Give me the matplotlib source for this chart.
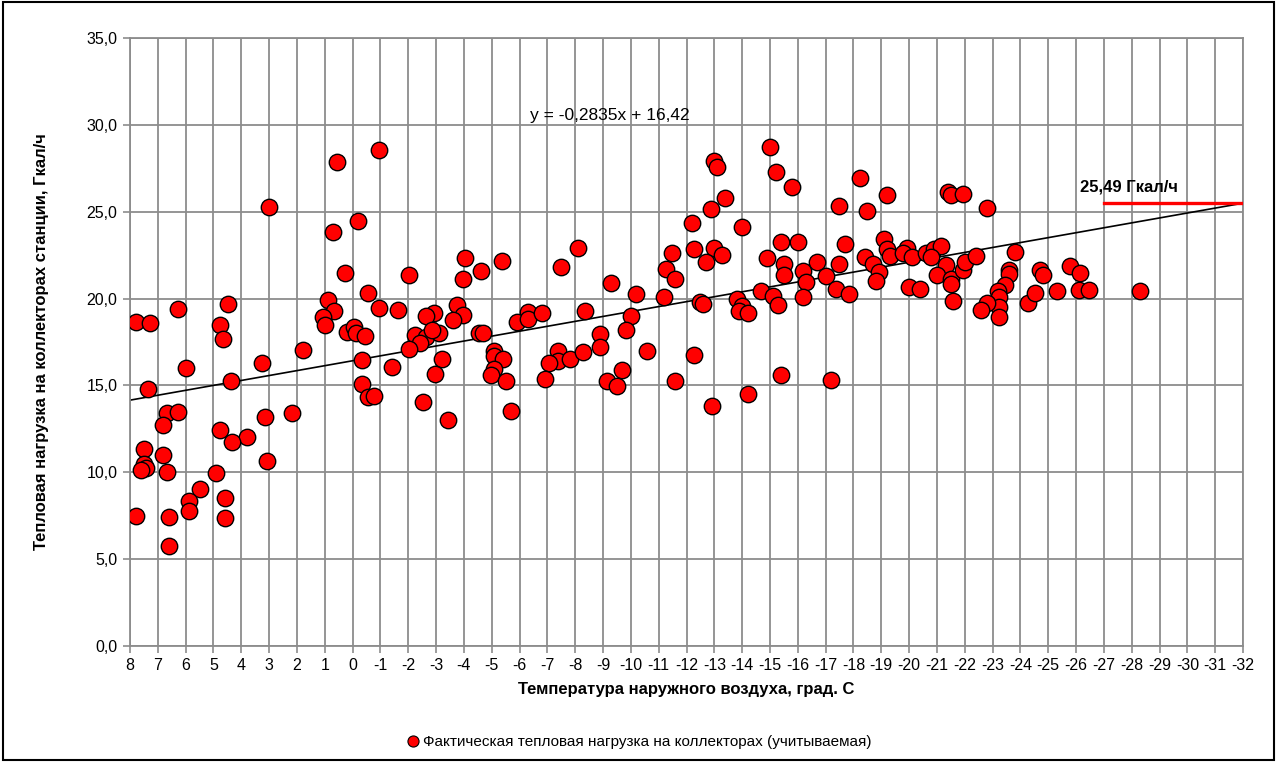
import matplotlib
matplotlib.use('Agg')
import matplotlib.pyplot as plt
from matplotlib.ticker import FuncFormatter, MultipleLocator
from matplotlib.patches import Rectangle
from matplotlib.lines import Line2D

plt.rcParams['font.family'] = ['Liberation Sans', 'DejaVu Sans']
plt.rcParams['axes.unicode_minus'] = False

# температура наружного воздуха, град. С
temp = [3.0, 7.8, 7.28, 6.28, 4.48, 4.78, 4.66, 1.78, 5.99, 3.25,
        7.37, 4.36, 6.67, 6.28, 6.8, 3.14, 2.16, 4.78, 3.78, 4.35,
        7.48, 6.8, 3.08, 7.49, 7.43, 7.61, 6.67, 4.9, 5.47, 5.89,
        4.59, 5.89, 7.8, 6.59, 4.59, 6.59,
        -0.94, 0.57, -0.21, 0.69, 0.26, -2.01, -4.05, -3.95, -4.63, -0.54,
        0.87, -0.94, -1.63, 0.66, 1.05, 0.99, -3.74, -3.96, -3.62, -2.94,
        -2.63, -2.24, -2.64, -3.12, -2.84, -2.42, -2.03, 0.2, -0.06, -0.14,
        -0.45, -4.55, -4.7, -0.33, -1.42, -3.23, -2.95, -0.33, -0.54, -0.76,
        -2.53, -3.43,
        -5.38, -8.11, -7.49, -9.28, -10.17, -6.29, -5.9, -6.29, -6.81, -8.37,
        -10.0, -9.81, -8.9, -8.9, -10.59, -5.07, -5.07, -5.41, -5.07, -4.98,
        -5.5, -7.38, -7.38, -7.07, -7.8, -8.29, -6.91, -5.69, -9.16, -9.49,
        -9.69, -11.2,
        -15.0, -13.0, -13.1, -15.2, -15.8, -13.38, -12.89, -12.19, -14.0, -17.49,
        -15.39, -16.0, -17.69, -11.48, -12.26, -13.0, -13.27, -12.7, -11.28, -11.59,
        -14.9, -15.49, -15.49, -16.7, -17.49, -16.2, -16.29, -17.01, -17.38, -17.83,
        -16.2, -14.69, -15.11, -15.29, -12.47, -12.6, -13.8, -13.98, -13.9, -14.22,
        -12.28, -11.58, -15.39, -17.2, -14.2, -12.9,
        -18.23, -19.22, -21.41, -21.5, -21.92, -22.8, -18.49, -19.09, -19.21, -19.33,
        -18.4, -18.69, -18.92, -18.8, -19.92, -19.78, -20.12, -20.59, -20.89, -21.13,
        -20.8, -21.32, -21.0, -21.5, -21.5, -21.92, -22.01, -22.42, -23.8, -21.59,
        -20.0, -20.4, -23.59, -23.59, -23.43, -23.2, -23.23, -23.23, -23.23, -22.8,
        -22.59, -24.26,
        -24.69, -24.81, -24.51, -25.31, -25.79, -26.13, -26.1, -26.46, -28.31]

# тепловая нагрузка, Гкал/ч
load = [25.3, 18.65, 18.6, 19.4, 19.7, 18.5, 17.7, 17.06, 16.0, 16.3,
        14.8, 15.23, 13.42, 13.46, 12.73, 13.2, 13.4, 12.46, 12.04, 11.75,
        11.35, 10.98, 10.63, 10.5, 10.25, 10.12, 10.02, 9.94, 9.04, 8.37,
        8.5, 7.79, 7.48, 7.42, 7.38, 5.73,
        28.56, 27.85, 24.46, 23.85, 21.48, 21.38, 22.35, 21.1, 21.6, 20.33,
        19.94, 19.48, 19.35, 19.3, 18.94, 18.48, 19.65, 19.04, 18.75, 19.15,
        18.98, 17.88, 17.77, 18.04, 18.19, 17.42, 17.12, 18.1, 18.38, 18.04,
        17.87, 18.02, 18.02, 16.48, 16.08, 16.54, 15.67, 15.06, 14.35, 14.37,
        14.02, 13.02,
        22.15, 22.92, 21.81, 20.88, 20.27, 19.25, 18.65, 18.85, 19.15, 19.27,
        19.0, 18.21, 17.96, 17.19, 16.96, 16.96, 16.69, 16.52, 15.96, 15.6,
        15.23, 17.0, 16.42, 16.27, 16.5, 16.9, 15.38, 13.54, 15.23, 14.94,
        15.88, 20.1,
        28.73, 27.92, 27.58, 27.29, 26.44, 25.8, 25.13, 24.37, 24.1, 25.35,
        23.25, 23.25, 23.13, 22.6, 22.83, 22.92, 22.52, 22.1, 21.73, 21.1,
        22.31, 22.0, 21.38, 22.1, 21.98, 21.56, 20.94, 21.31, 20.56, 20.29,
        20.1, 20.42, 20.12, 19.65, 19.81, 19.71, 20.0, 19.58, 19.29, 19.17,
        16.73, 15.23, 15.58, 15.29, 14.5, 13.81,
        26.92, 25.98, 26.15, 25.94, 26.02, 25.23, 25.02, 23.44, 22.87, 22.46,
        22.37, 21.98, 21.54, 21.02, 22.9, 22.6, 22.37, 22.6, 22.85, 23.04,
        22.37, 21.92, 21.35, 21.1, 20.83, 21.63, 22.13, 22.46, 22.69, 19.87,
        20.69, 20.54, 21.63, 21.4, 20.81, 20.46, 20.1, 19.52, 18.94, 19.73,
        19.33, 19.77,
        21.67, 21.38, 20.33, 20.42, 21.87, 21.46, 20.52, 20.52, 20.46]

# линия тренда (из подписи графика)
slope = -0.2835
intercept = 16.42
trend_x = [8, -32]

# расчетная нагрузка
design_load = 25.49
design_x = [-27, -32]

x_ticks = list(range(8, -33, -1))

fig = plt.figure(figsize=(12.77, 7.62), dpi=100)
ax = fig.add_axes([130 / 1277, 1 - 646 / 762, 1113 / 1277, 608 / 762])

ax.set_xlim(8, -32)
ax.set_ylim(0, 35)

ax.set_xticks(x_ticks)
ax.set_xticklabels([str(t) for t in x_ticks])
ax.yaxis.set_major_locator(MultipleLocator(5))
ax.yaxis.set_major_formatter(FuncFormatter(lambda v, p: ('%.1f' % v).replace('.', ',')))

ax.grid(True, color='#8c8c8c', linewidth=1.3)
ax.set_axisbelow(True)
for s in ax.spines.values():
    s.set_color('#8c8c8c')
    s.set_linewidth(1.3)
ax.tick_params(axis='both', direction='out', length=5, color='#8c8c8c', width=1.2,
               labelsize=11.5, pad=4)

# линия тренда
ax.plot(trend_x, [slope * t + intercept for t in trend_x], color='black', lw=1.2, zorder=2)

ax.scatter(temp, load, s=140, facecolor='#ff0000', edgecolor='black', linewidth=1.0, zorder=3)

ax.plot(design_x, [design_load, design_load], color='#ff0000', lw=2.4, zorder=4)
ax.text(-27.9, design_load + 0.95, '25,49 Гкал/ч', fontsize=12, fontweight='bold',
        ha='center', va='center', zorder=5)

ax.text(-9.25, 30.55, 'y = -0,2835x + 16,42', fontsize=12.5, ha='center', va='center')

ax.set_xlabel('Температура наружного воздуха, град. С', fontsize=12, fontweight='bold', labelpad=6)
ax.set_ylabel('Тепловая нагрузка на коллекторах станции, Гкал/ч', fontsize=12,
              fontweight='bold', labelpad=27)

h = Line2D([], [], marker='o', linestyle='none', markersize=8,
           markerfacecolor='#ff0000', markeredgecolor='black', markeredgewidth=0.8)
fig.legend([h], ['Фактическая тепловая нагрузка на коллекторах (учитываемая)'],
           loc='center', bbox_to_anchor=(0.5, 1 - 742 / 762), frameon=False,
           fontsize=11, handletextpad=0.1, handlelength=1.0)

fig.patches.append(Rectangle((0.002, 0.003), 0.996, 0.994, transform=fig.transFigure,
                             fill=False, edgecolor='black', linewidth=1.5))

fig.savefig('out.png', dpi=100)
